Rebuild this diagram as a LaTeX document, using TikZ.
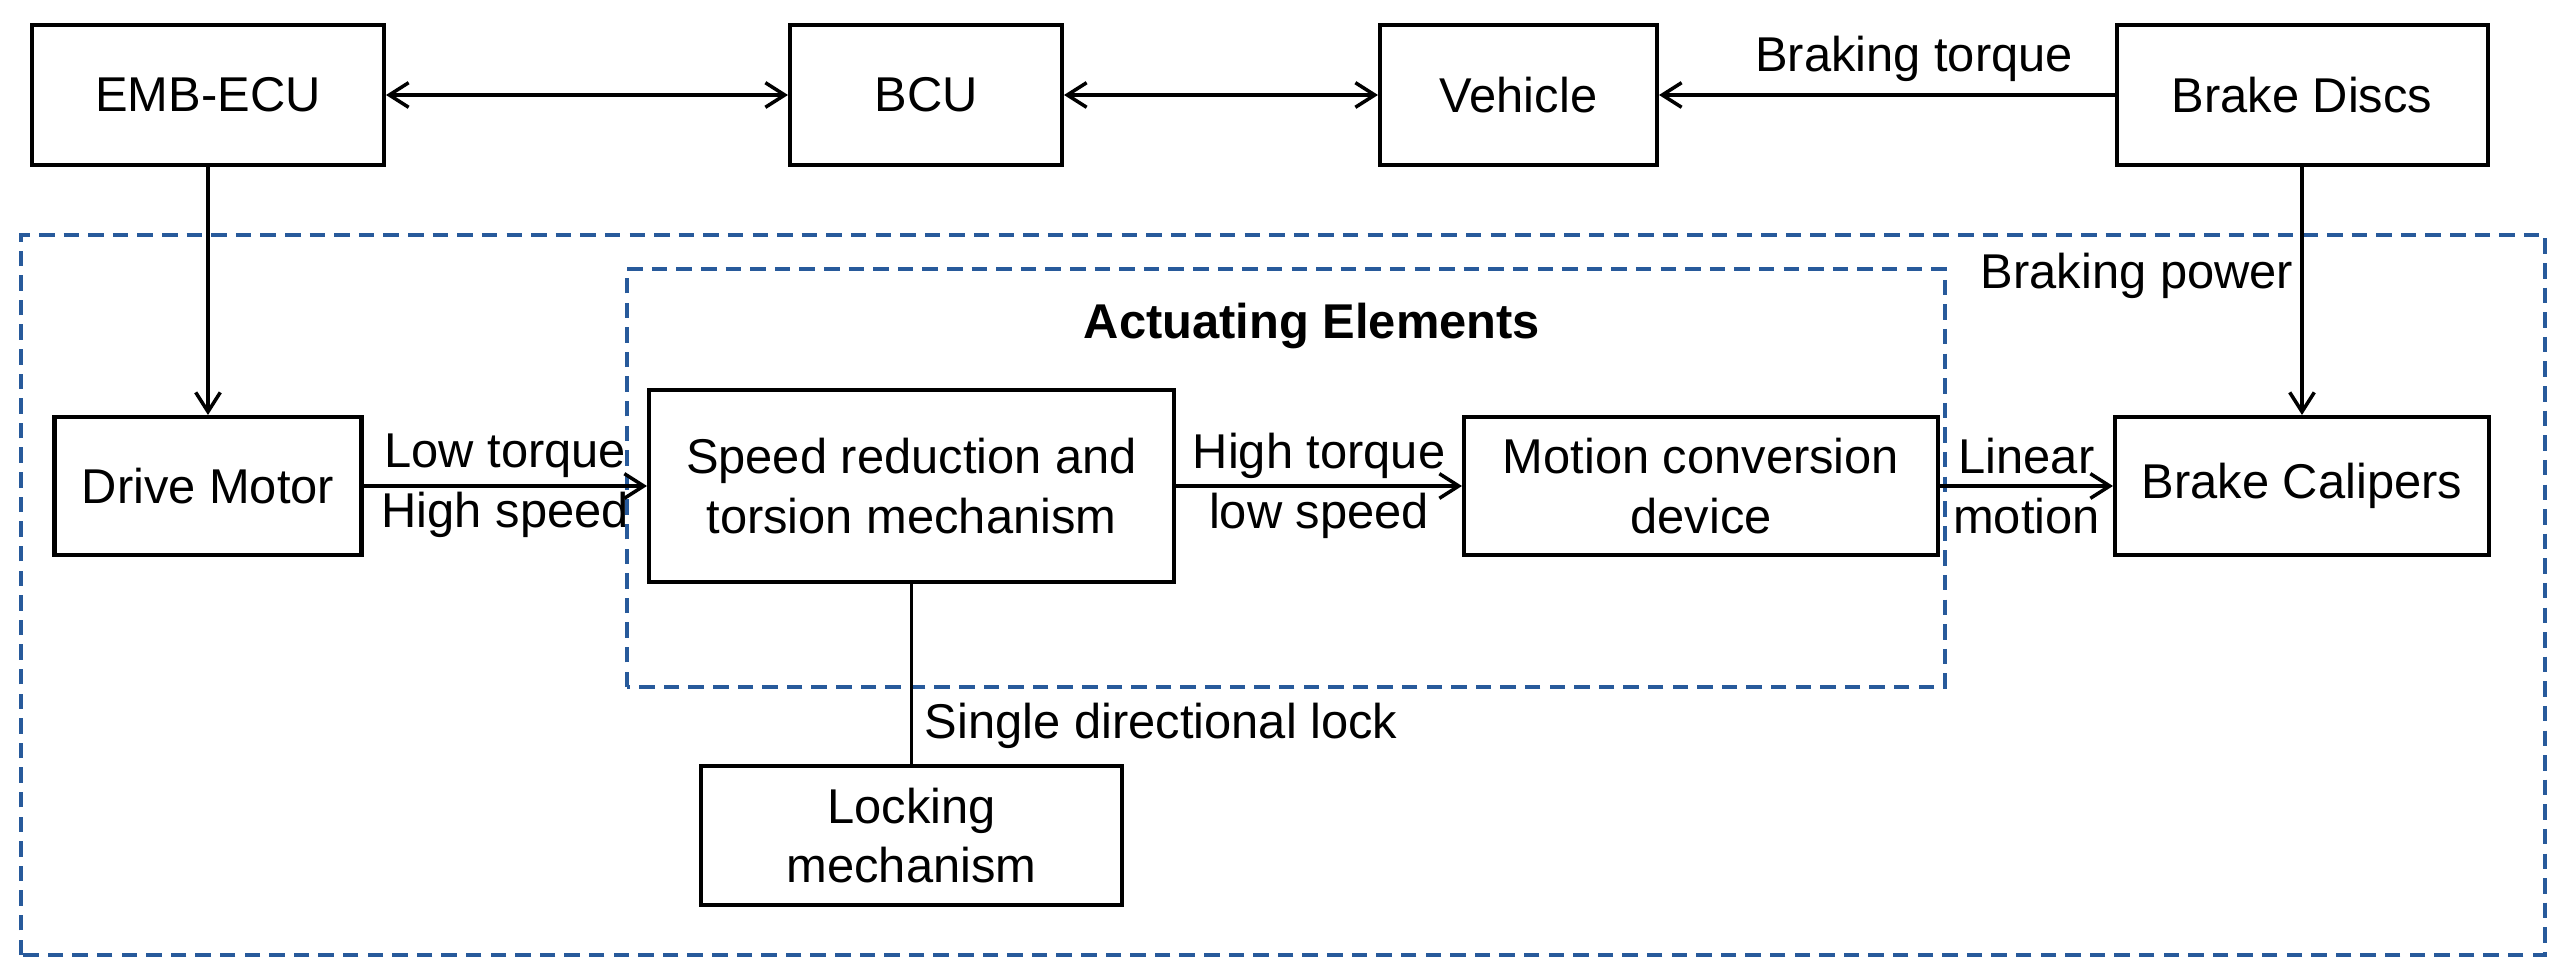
\documentclass[tikz,border=0pt]{standalone}
\usepackage{fontspec}
\setmainfont{Liberation Sans}
\usetikzlibrary{arrows.meta,positioning}
\definecolor{frameblue}{RGB}{40,90,155}
\tikzset{
  block/.style={draw,line width=1.15pt,align=center,inner sep=0pt},
  group/.style={frameblue,line width=1pt,dash pattern=on 4.4pt off 2.6pt},
}

\begin{document}
\begin{tikzpicture}[>={Straight Barb[length=5.5pt,width=7pt]},line width=1pt,font=\fontsize{13.9}{17}\selectfont]
  \useasboundingbox (0,0) rectangle (25.6,9.75);

  % dashed frames
  \draw[group] (0.21,0.20) rectangle (25.45,7.40);
  \draw[group] (6.27,2.88) rectangle (19.45,7.06);
  \node[font=\fontsize{13.9}{17}\selectfont\bfseries] (actuating) at (13.12,6.49) {Actuating Elements};

  % top row
  \node[block,minimum width=3.52cm,minimum height=1.40cm] (ecu) at (2.08,8.80) {EMB-ECU};
  \node[block,minimum width=2.72cm,minimum height=1.40cm] (bcu) at (9.26,8.80) {BCU};
  \node[block,minimum width=2.77cm,minimum height=1.40cm] (vehicle) at (15.185,8.80) {Vehicle};
  \node[block,minimum width=3.71cm,minimum height=1.40cm] (discs) at (23.02,8.80) {Brake Discs};

  % middle row
  \node[block,minimum width=3.07cm,minimum height=1.38cm] (motor) at (2.08,4.89) {Drive Motor};
  \node[block,minimum width=5.25cm,minimum height=1.92cm] (reducer) at (9.115,4.89) {Speed reduction and\\torsion mechanism};
  \node[block,minimum width=4.74cm,minimum height=1.38cm] (converter) at (17.01,4.89) {Motion conversion\\device};
  \node[block,minimum width=3.74cm,minimum height=1.38cm] (calipers) at (23.02,4.89) {Brake Calipers};
  \node[block,minimum width=4.21cm,minimum height=1.39cm] (lock) at (9.115,1.395) {Locking\\mechanism};

  \foreach \a/\b in {ecu/bcu,bcu/vehicle}
    \draw[<->] (\a) -- (\b);
  \draw[->] (discs) -- (vehicle) node[pos=0.44,above] (torquelabel) {Braking torque};
  \draw[->] (ecu) -- (motor);
  \draw[->] (discs) -- (calipers) node[pos=0.44,left,inner sep=2pt] (powerlabel) {Braking power};

  \draw[->] (motor) -- (reducer) node[midway,align=center] (inlabel) {Low torque\\High speed};
  \draw[->] (reducer) -- (converter) node[midway,align=center] (outlabel) {High torque\\low speed};
  \draw[->] (converter) -- (calipers) node[midway,align=center] (linlabel) {Linear\\motion};
  \draw (reducer) -- (lock) node[pos=0.79,right] (locklabel) {Single directional lock};

\end{tikzpicture}
\end{document}
